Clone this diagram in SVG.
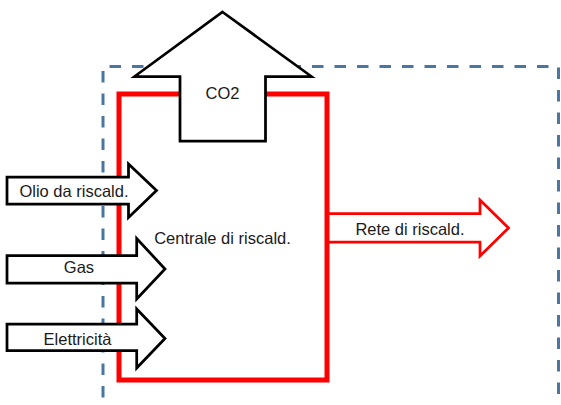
<svg xmlns="http://www.w3.org/2000/svg" width="561" height="405" viewBox="0 0 561 405">
<style>
.lbl{font-family:"Liberation Sans",Arial,sans-serif;font-size:16.5px;fill:#1a1a1a;text-anchor:middle}
.blk{fill:#fff;stroke:#000;stroke-width:2.75;stroke-linejoin:miter;stroke-miterlimit:10}
.red{fill:#fff;stroke:#ff0000;stroke-width:2.75;stroke-linejoin:miter;stroke-miterlimit:10}
</style>
<rect width="561" height="405" fill="#fff"/>
<g id="boundary">
<path d="M103,420 V66.5 H558.5 V420" fill="none" stroke="#4a76a2" stroke-width="3" stroke-dasharray="11.5 11"/>
</g>
<g id="connectors">
<g id="rete">
<path class="red" d="M327,213.5 H480 V200 L508.5,228 L480,256 V242 H327"/>
<text class="lbl" x="410" y="235">Rete di riscald.</text>
</g>
</g>
<g id="centrale">
<rect x="119" y="94" width="208" height="286" fill="none" stroke="#ff0000" stroke-width="5"/>
<text class="lbl" x="222.5" y="244">Centrale di riscald.</text>
</g>
<g id="co2">
<path class="blk" d="M222.5,12 L311.5,76.5 H265.5 V141 H180 V76.5 H134.5 Z"/>
<text class="lbl" x="222.5" y="99.3">CO2</text>
</g>
<g id="olio">
<path class="blk" d="M7,177 H128.5 V164 L156.5,190.5 L128.5,217.5 V204 H7 Z"/>
<text class="lbl" x="74" y="196.7">Olio da riscald.</text>
</g>
<g id="gas">
<path class="blk" d="M7,255.5 H136.7 V238.5 L165,269 L136.7,299 V283 H7 Z"/>
<text class="lbl" x="79" y="273.3">Gas</text>
</g>
<g id="elettricita">
<path class="blk" d="M7,324 H136.7 V309 L165,338.5 L136.7,368 V350.5 H7 Z"/>
<text class="lbl" x="77.5" y="345">Elettricità</text>
</g>
</svg>
